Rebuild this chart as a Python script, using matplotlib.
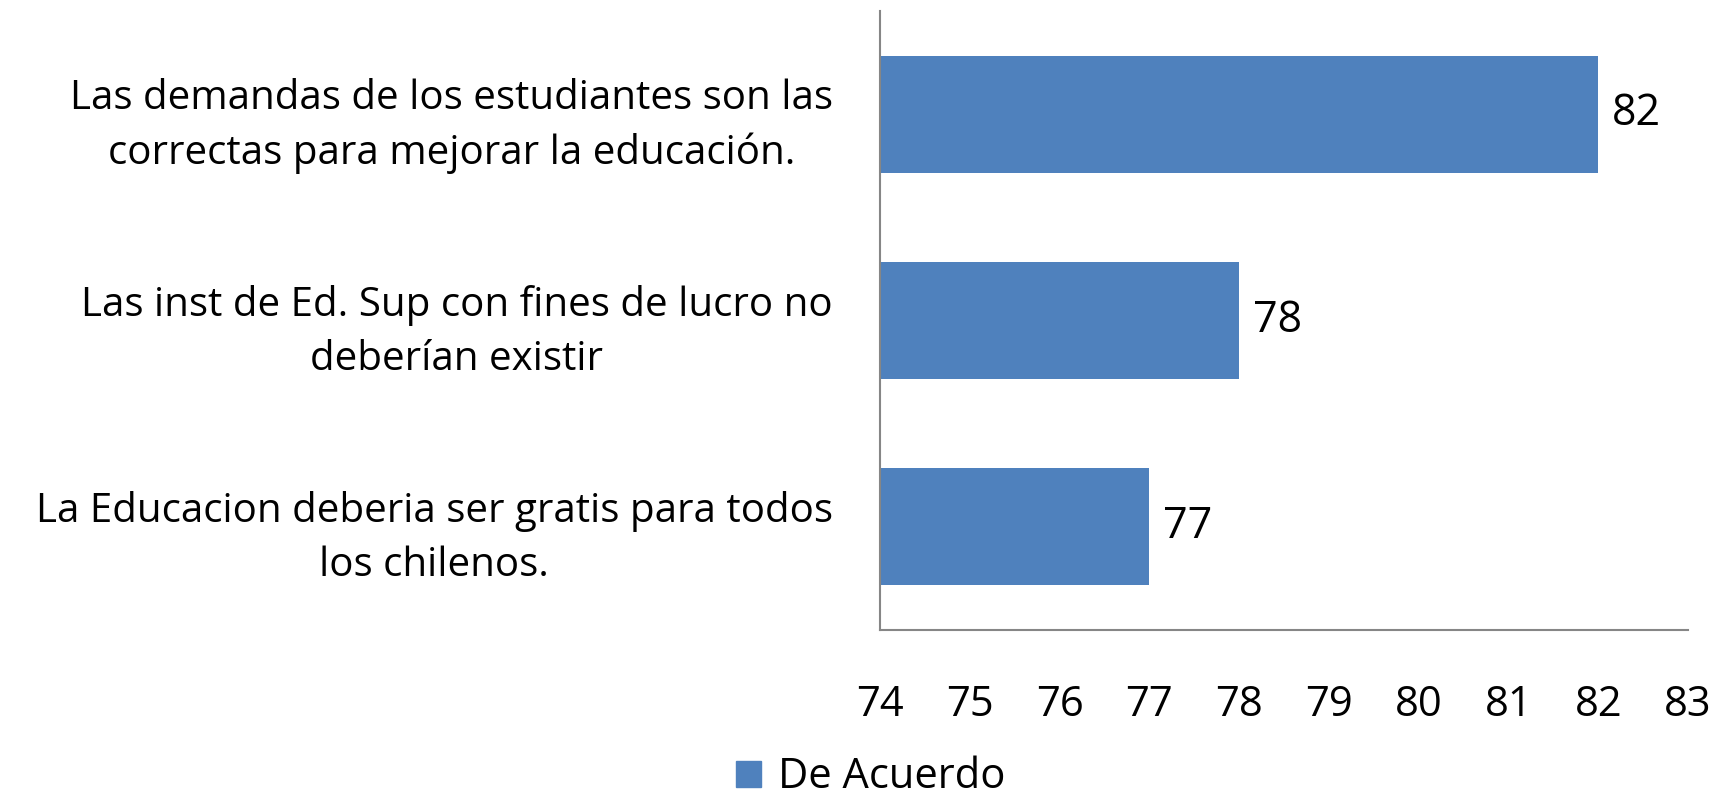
import matplotlib
matplotlib.use("Agg")
import matplotlib.pyplot as plt
from matplotlib.patches import Patch

# data (top to bottom as in the chart)
categories = [
    "Las demandas de los estudiantes son las\ncorrectas para mejorar la educación.",
    "Las inst de Ed. Sup con fines de lucro no\ndeberían existir",
    "La Educacion deberia ser gratis para todos\nlos chilenos.",
]
values = [82, 78, 77]
xticks = list(range(74, 84))
series_name = "De Acuerdo"
bar_color = "#4F81BD"

plt.rcParams["font.family"] = ["Open Sans", "DejaVu Sans"]

fig = plt.figure(figsize=(17.24, 7.99), dpi=100)
ax = fig.add_axes([880 / 1724, 1 - 630 / 799, (1688 - 880) / 1724, (630 - 11) / 799])

ypos = list(range(len(categories)))[::-1]
ax.barh(ypos, values, height=0.567, left=0, color=bar_color)
ax.set_xlim(74, 83)
ax.set_ylim(-0.5, 2.5)

for y, v in zip(ypos, values):
    ax.annotate(f"{v}", (v, y), xytext=(10, 0), textcoords="offset points",
                ha="left", va="center", fontsize=31)

ax.set_yticks(ypos)
ax.set_yticklabels(categories, fontsize=29, multialignment="center", linespacing=1.45)
ax.set_xticks(xticks)
ax.set_xticklabels([str(t) for t in xticks], fontsize=30)
ax.tick_params(axis="both", length=0)
ax.tick_params(axis="y", pad=34)
ax.tick_params(axis="x", pad=39)

for s in ("top", "right"):
    ax.spines[s].set_visible(False)
for s in ("left", "bottom"):
    ax.spines[s].set_color("#868686")
    ax.spines[s].set_linewidth(1.5)

fig.legend(handles=[Patch(color=bar_color, label=series_name)], loc="center",
           bbox_to_anchor=(0.505, 0.027), frameon=False, fontsize=30,
           handlelength=0.6, handleheight=0.6, handletextpad=0.4,
           borderpad=0, borderaxespad=0)

fig.savefig("out.png", dpi=100)
